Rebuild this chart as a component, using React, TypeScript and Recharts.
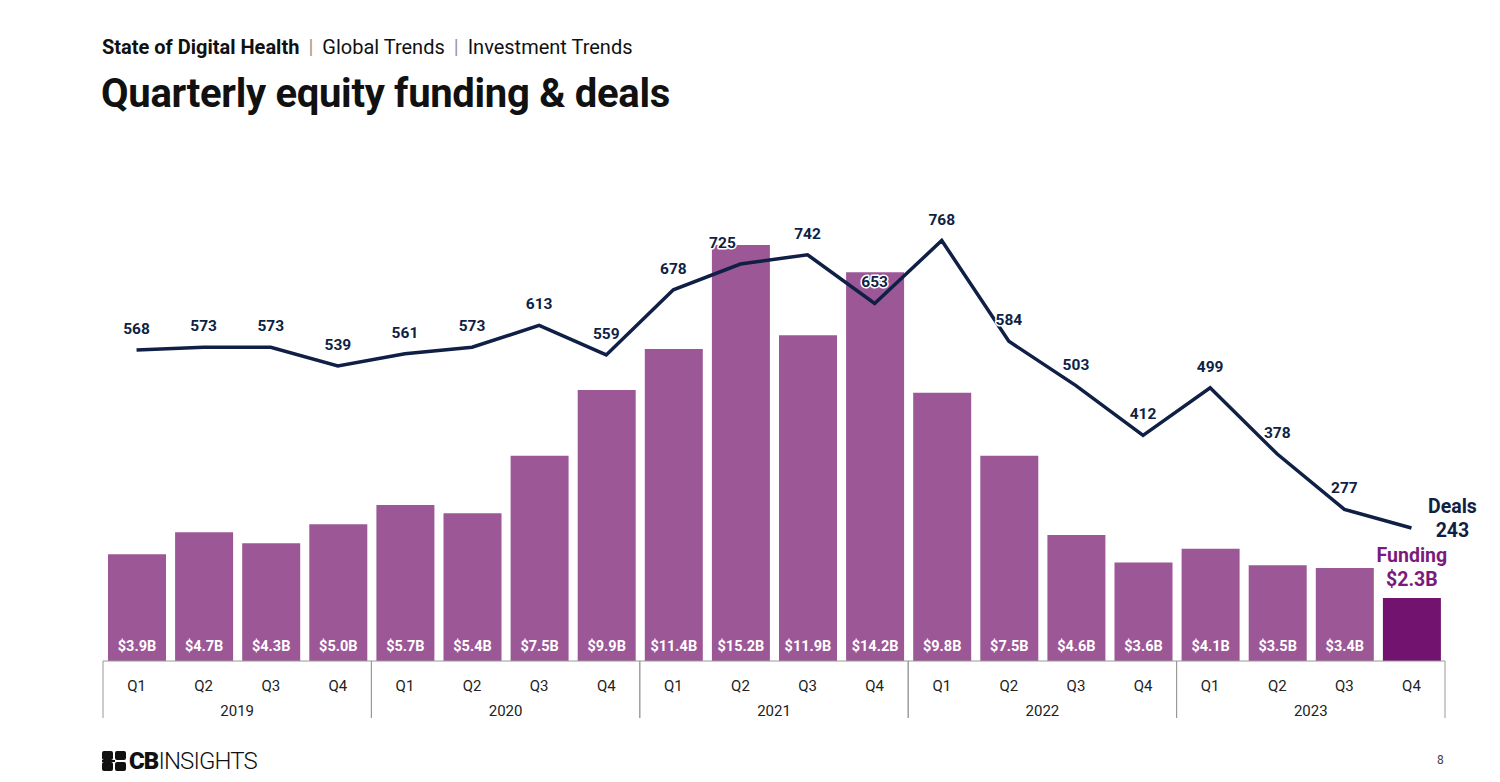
import React from 'react';
import { ComposedChart, Bar, Line, XAxis, YAxis, Cell, LabelList } from 'recharts';

const quarterLabels = ['Q1','Q2','Q3','Q4','Q1','Q2','Q3','Q4','Q1','Q2','Q3','Q4','Q1','Q2','Q3','Q4','Q1','Q2','Q3','Q4'];
const yearLabels = ['2019','2019','2019','2019','2020','2020','2020','2020','2021','2021','2021','2021','2022','2022','2022','2022','2023','2023','2023','2023'];
const fundingB = [3.9,4.7,4.3,5.0,5.7,5.4,7.5,9.9,11.4,15.2,11.9,14.2,9.8,7.5,4.6,3.6,4.1,3.5,3.4,2.3];
const dealCounts = [568,573,573,539,561,573,613,559,678,725,742,653,768,584,503,412,499,378,277,243];

const data = quarterLabels.map((q, i) => ({ q, year: yearLabels[i], funding: fundingB[i], deals: dealCounts[i] }));

const BAR = '#9c5796';
const BAR_LAST = '#71136f';
const NAVY = '#0f1f45';
const PURPLE = '#7b1a7b';
const FONT = 'Roboto, "Noto Sans", sans-serif';
const last = data.length - 1;

const QuarterTick = (props: any) => {
  const { x, y, payload } = props;
  return (
    <text x={x} y={y + 30} textAnchor="middle" fontSize={15} fill="#222" fontFamily={FONT}>{payload.value}</text>
  );
};

const YearTick = (props: any) => {
  const { x, y, payload } = props;
  const off = payload.offset || 0;
  return (
    <g>
      <line x1={x - off} x2={x - off} y1={y - 25} y2={y + 32} stroke="#999" strokeWidth={1} />
      <line x1={x + off} x2={x + off} y1={y - 25} y2={y + 32} stroke="#999" strokeWidth={1} />
      <text x={x} y={y + 30} textAnchor="middle" fontSize={15} fill="#222" fontFamily={FONT}>{payload.value}</text>
    </g>
  );
};

const BarLabel = (props: any) => {
  const { x, y, width, height, value, index } = props;
  const cx = x + width / 2;
  if (index === last) {
    return (
      <g fontFamily={FONT} fontWeight={700} fontSize={19.5} fill={PURPLE} textAnchor="middle">
        <text x={cx} y={y - 36}>Funding</text>
        <text x={cx} y={y - 12}>${Number(value).toFixed(1)}B</text>
      </g>
    );
  }
  return (
    <text x={cx} y={y + height - 10} textAnchor="middle" fontSize={14.5} fontWeight={700} fill="#fff" fontFamily={FONT}>
      ${Number(value).toFixed(1)}B
    </text>
  );
};

const LineLabel = (props: any) => {
  const { x, y, value, index } = props;
  if (index === last) {
    return (
      <g fontFamily={FONT} fontWeight={700} fontSize={19.5} fill={NAVY} textAnchor="middle">
        <text x={x + 41} y={y - 15}>Deals</text>
        <text x={x + 41} y={y + 9}>{value}</text>
      </g>
    );
  }
  const dx = index === 9 ? -18 : 0;
  return (
    <text x={x + dx} y={y - 16} textAnchor="middle" fontSize={15.5} fontWeight={700} fill={NAVY} fontFamily={FONT}
      stroke="#fff" strokeWidth={3} paintOrder="stroke" strokeLinejoin="round">
      {value}
    </text>
  );
};

export default function App() {
  return (
    <div style={{ position: 'relative', width: 1500, height: 782, margin: -8, overflow: 'hidden', background: '#fff', fontFamily: FONT, color: '#111' }}>
      <div style={{ position: 'absolute', left: 102, top: 35, fontSize: 20, whiteSpace: 'nowrap', lineHeight: '24px' }}>
        <span style={{ fontWeight: 700 }}>State of Digital Health</span>
        <span style={{ color: '#999', margin: '0 9px' }}>|</span>
        <span>Global Trends</span>
        <span style={{ color: '#999', margin: '0 9px' }}>|</span>
        <span>Investment Trends</span>
      </div>
      <div style={{ position: 'absolute', left: 101, top: 70, fontSize: 40, fontWeight: 700, whiteSpace: 'nowrap', lineHeight: '48px', letterSpacing: -0.3 }}>
        Quarterly equity funding &amp; deals
      </div>
      <div style={{ position: 'absolute', left: 0, top: 0 }}>
        <ComposedChart width={1500} height={782} data={data} margin={{ top: 223, right: 55, left: 103, bottom: 61 }}>
          <XAxis dataKey="q" xAxisId={0} height={25} tickLine={false} tickSize={0} tickMargin={0} axisLine={{ stroke: '#999' }} tick={<QuarterTick />} interval={0} />
          <XAxis dataKey="year" xAxisId="year" height={35} allowDuplicatedCategory={false} tickLine={false} tickSize={0} tickMargin={0} axisLine={false} tick={<YearTick />} interval={0} />
          <YAxis yAxisId="funding" domain={[0, 16]} hide />
          <YAxis yAxisId="deals" domain={[0, 800]} hide />
          <Bar dataKey="funding" yAxisId="funding" xAxisId={0} barSize={58} isAnimationActive={false}>
            {data.map((d, i) => <Cell key={i} fill={i === last ? BAR_LAST : BAR} />)}
            <LabelList dataKey="funding" content={<BarLabel />} />
          </Bar>
          <Line dataKey="deals" yAxisId="deals" xAxisId={0} stroke={NAVY} strokeWidth={3.5} dot={false} activeDot={false} isAnimationActive={false} type="linear">
            <LabelList dataKey="deals" content={<LineLabel />} />
          </Line>
        </ComposedChart>
      </div>
      <div style={{ position: 'absolute', left: 102, top: 751, display: 'flex', alignItems: 'center' }}>
        <svg width={24} height={20} viewBox="0 0 24 20">
          <rect x={0} y={0} width={11} height={9} rx={2} fill="#111" />
          <rect x={13} y={0} width={11} height={9} rx={2} fill="#111" />
          <rect x={0} y={11} width={11} height={9} rx={2} fill="#111" />
          <rect x={13} y={11} width={11} height={9} rx={2} fill="#111" />
          <rect x={0} y={9} width={13} height={2} fill="#111" />
        </svg>
        <span style={{ marginLeft: 3, fontSize: 24, lineHeight: '20px', color: '#111', letterSpacing: -0.9 }}>
          <span style={{ fontWeight: 900 }}>CB</span><span style={{ fontWeight: 300 }}>INSIGHTS</span>
        </span>
      </div>
      <div style={{ position: 'absolute', left: 1437, top: 753, fontSize: 12, color: '#444' }}>8</div>
    </div>
  );
}
